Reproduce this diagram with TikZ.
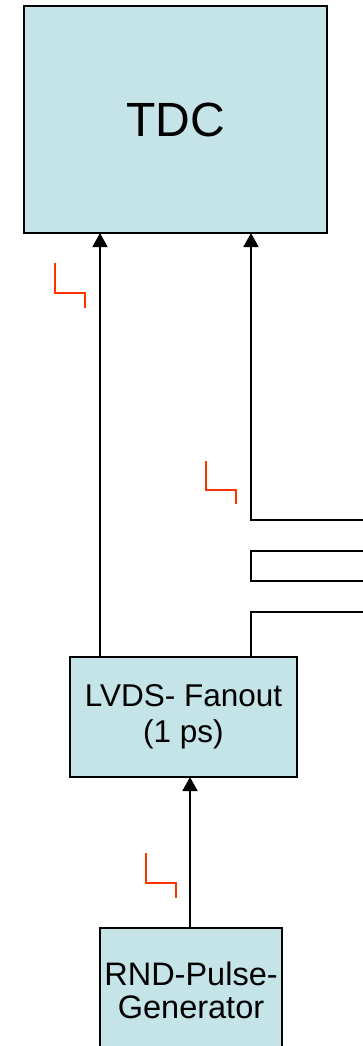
\documentclass[tikz,border=0pt]{standalone}
\usepackage{fontspec}
\setmainfont{Liberation Sans}
\usetikzlibrary{arrows.meta,calc}
\definecolor{boxfill}{HTML}{C4E4E7}
\definecolor{stepred}{HTML}{FF3300}
\begin{document}
\begin{tikzpicture}[x=1pt,y=-1pt,
  blk/.style={draw=black,line width=1.6pt,fill=boxfill,inner sep=0pt,outer sep=0pt,align=center},
  conn/.style={draw=black,line width=1.8pt},
  arr/.style={conn,-{Triangle[width=15pt,length=14pt]}},
  stepsym/.style={draw=stepred,line width=2.8pt}]
\useasboundingbox (0,0) rectangle (363,1046);
\clip (0,0) rectangle (363,1046);
\node[blk,minimum width=303pt,minimum height=227pt,font=\fontsize{48}{56}\selectfont] (tdc) at (175.5,119.5) {TDC};
\node[blk,minimum width=227pt,minimum height=120pt,font=\fontsize{31.5}{36}\selectfont] (fan) at (183.5,717) {LVDS- Fanout\\(1 ps)};
\node[blk,minimum width=182pt,minimum height=124pt,font=\fontsize{32.5}{33}\selectfont] (rnd) at (191,990) {RND-Pulse-\\Generator};
% routing points
\coordinate (cl) at (100,0);
\coordinate (c1) at (251,520);
\coordinate (c2) at (251,612);
\coordinate (cm) at (190,0);
% left connector
\draw[arr] (fan.north -| cl) -- (tdc.south -| cl);
% right connector
\coordinate (e1) at (363,520);
\draw[arr] (e1) -- (c1) -- (tdc.south -| c1);
% open rectangle
\coordinate (e2) at (363,551);
\coordinate (e3) at (363,581);
\draw[conn] (e2) -- (251,551) -- (251,581) -- (e3);
% third line to fanout
\coordinate (e4) at (363,612);
\draw[conn] (e4) -- (c2) -- (fan.north -| c2);
% rnd to fanout
\draw[arr] (rnd.north -| cm) -- (fan.south -| cm);
% red step symbols
\draw[stepsym] (55,263) -- (55,293) -- (85,293) -- (85,308);
\draw[stepsym] (206,461) -- (206,490) -- (236,490) -- (236,504);
\draw[stepsym] (146,853) -- (146,883) -- (176,883) -- (176,898);
\end{tikzpicture}
\end{document}
